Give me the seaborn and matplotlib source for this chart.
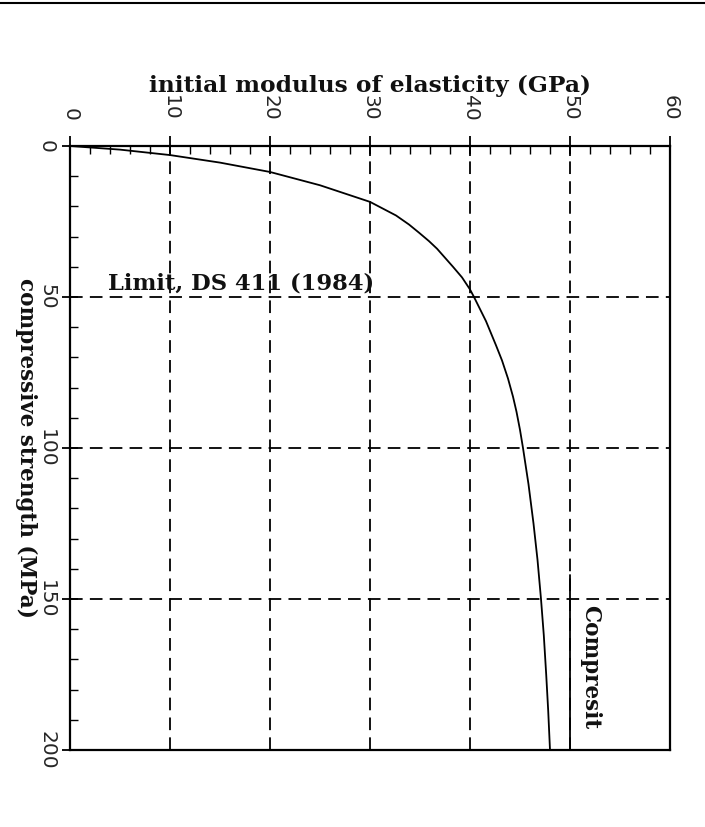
import matplotlib
matplotlib.use("Agg")
import matplotlib.pyplot as plt
from matplotlib.ticker import MultipleLocator
from matplotlib.lines import Line2D
import seaborn as sns
import pandas as pd

# ---- data ----
strength_mpa = [0, 1.2, 3, 5.5, 8.6, 13, 18.5, 23, 26, 28.7, 31.5, 34, 37, 40, 43.5,
                47.5, 50, 54, 58, 62, 66, 71, 77, 83, 88, 94, 100, 112, 125, 137,
                150, 162, 175, 187, 200]
modulus_gpa = [0, 5, 10, 15, 20, 25, 30, 32.6, 33.9, 34.9, 35.9, 36.7, 37.5, 38.3, 39.2,
               40.0, 40.4, 41.0, 41.6, 42.1, 42.6, 43.2, 43.8, 44.3, 44.65, 45.0, 45.3,
               45.85, 46.35, 46.75, 47.1, 47.38, 47.62, 47.82, 48.0]

grid_modulus = [10, 20, 30, 40, 50]
grid_strength = [50, 100, 150]

compresit_modulus = [50, 50]
compresit_strength = [142, 200]

x_ticks = [0, 10, 20, 30, 40, 50, 60]
y_ticks = [0, 50, 100, 150, 200]

limit_label = "Limit, DS 411 (1984)"
limit_pos = (3.8, 47.6)
compresit_label = "Compresit"
compresit_pos = (52.0, 152)

xlabel = "initial modulus of elasticity (GPa)"
ylabel = "compressive strength (MPa)"

df = pd.DataFrame({"E": modulus_gpa, "fc": strength_mpa})

sns.set_theme(style="white")
plt.rcParams["font.family"] = ["DejaVu Sans"]

fig = plt.figure(figsize=(7.05, 8.27), dpi=100)
ax = fig.add_axes([70 / 705, 1 - 750 / 827, 600 / 705, (750 - 146) / 827])

serif = ["DejaVu Serif"]
txt_kw = dict(family=serif, fontsize=15.5, fontweight="bold", color="#111111")

# grid lines (dashed)
for g in grid_modulus:
    ax.axvline(g, color="black", lw=1.3, dashes=(7, 4), zorder=1)
for g in grid_strength:
    ax.axhline(g, color="black", lw=1.3, dashes=(7, 4), zorder=1)

sns.lineplot(data=df, x="E", y="fc", sort=False, estimator=None,
             color="black", lw=1.3, ax=ax, zorder=3)

ax.plot(compresit_modulus, compresit_strength, color="black", lw=1.3, zorder=3)

ax.text(limit_pos[0], limit_pos[1], limit_label, ha="left", va="baseline",
        **{**txt_kw, "fontsize": 16.3})
ax.text(compresit_pos[0], compresit_pos[1], compresit_label, rotation=-90,
        ha="center", va="top", **txt_kw)

ax.set_xlim(0, 60)
ax.set_ylim(200, 0)
ax.xaxis.tick_top()
ax.xaxis.set_label_position("top")
ax.set_xticks(x_ticks)
ax.set_yticks(y_ticks)
ax.xaxis.set_minor_locator(MultipleLocator(2))
ax.yaxis.set_minor_locator(MultipleLocator(10))

ax.tick_params(axis="x", which="major", direction="inout", length=14, width=1.3,
               pad=11, labelsize=14.5, labelrotation=-90, top=True, bottom=False,
               labeltop=True, labelbottom=False, color="black")
ax.tick_params(axis="x", which="minor", direction="in", length=6, width=1.0,
               top=True, bottom=False, color="black")
ax.tick_params(axis="y", which="major", direction="inout", length=12, width=1.3,
               pad=4, labelsize=14.5, labelrotation=-90, left=True, right=False,
               color="black")
ax.tick_params(axis="y", which="minor", direction="in", length=6, width=1.0,
               left=True, right=False, color="black")
for lab in ax.get_xticklabels():
    lab.set_va("bottom")
    lab.set_ha("center")
for lab in ax.get_yticklabels():
    lab.set_va("center")
    lab.set_ha("right")

ax.set_xlabel(xlabel, labelpad=2, **{**txt_kw, "fontsize": 16.8})
ax.set_ylabel(ylabel, rotation=-90, labelpad=8, va="center", **txt_kw)

for s in ax.spines.values():
    s.set_color("black")
    s.set_linewidth(1.6)

# scan edge line at the top of the page
fig.add_artist(Line2D([0, 1], [1 - 3 / 827, 1 - 3 / 827], color="black", lw=1.5))

fig.savefig("out.png", dpi=100, facecolor="white")
